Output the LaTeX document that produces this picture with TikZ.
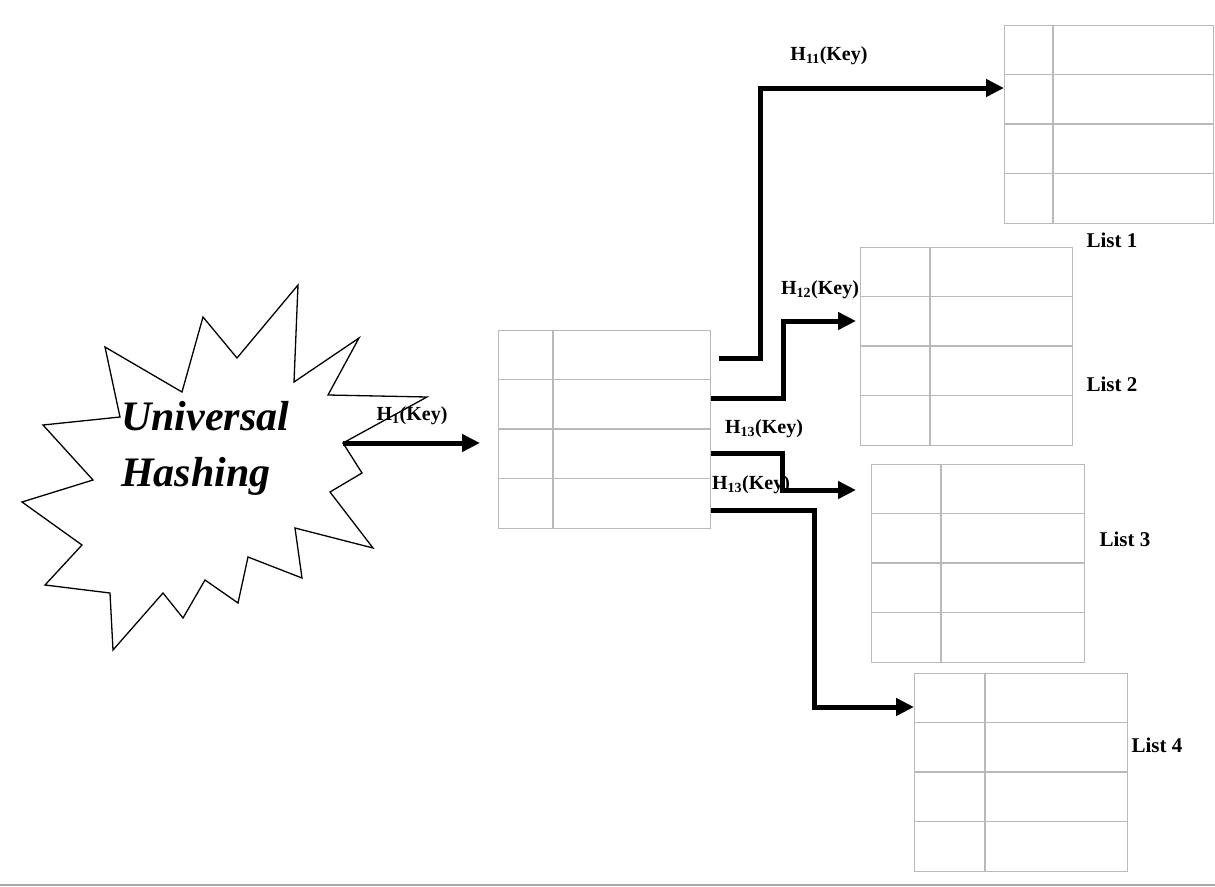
\documentclass[tikz,border=0pt]{standalone}
\usepackage{fontspec}
\setmainfont{Liberation Serif}
\usetikzlibrary{positioning,arrows.meta,calc}

\tikzset{
	tbl/.style={draw=gray!55, line width=1.2pt, minimum height=198pt, anchor=north west, inner sep=0pt},
	cell/.style={gray!55, line width=1.2pt},
	hash/.style={line width=5pt, -{Triangle[length=18pt,width=17pt]}},
	lbl/.style={font=\fontsize{20}{22}\selectfont\bfseries, inner sep=0pt},
	lst/.style={font=\fontsize{21}{24}\selectfont\bfseries, inner sep=0pt},
}

\begin{document}
\begin{tikzpicture}[x=1pt,y=-1pt]
\useasboundingbox (0,0) rectangle (1215,886);

% the burst
\draw[line width=1.3pt] (298,285) -- (294,382) -- (359,338) -- (328,395) -- (427,397)
	-- (343,443) -- (362,473) -- (330,492) -- (373,548) -- (295,528) -- (302,578)
	-- (248,557) -- (238,603) -- (205,580) -- (183,618) -- (163,593) -- (113,650)
	-- (110,593) -- (45,585) -- (82,545) -- (22,502) -- (93,480) -- (43,425)
	-- (120,417) -- (105,347) -- (182,392) -- (203,317) -- (237,358) -- cycle;
\coordinate (tip) at (343,443);
\node[font=\fontsize{42}{56}\selectfont\bfseries\itshape, align=left, anchor=west, inner sep=0pt] (U) at (121,448) {Universal\\Hashing};

% table and lists
\foreach \n/\x/\y/\w/\c in {T/498/330/212/55, L1/1004/25/209/49, L2/860/247/212/70, L3/871/464/213/70, L4/914/673/213/71}{
	\node[tbl, minimum width=\w pt] (\n) at (\x,\y) {};
	\draw[cell] (\x+\c,\y) -- +(0,198);
	\foreach \r in {1,2,3}
		\draw[cell] (\x,\y+49.5*\r) -- +(\w,0);
}
\node[lst] (n1) at (1112,240) {List 1};
\node[lst] (n2) at (1112,384) {List 2};
\node[lst] (n3) at (1125,539) {List 3};
\node[lst] (n4) at (1157,745) {List 4};

% hash arrows
\draw[hash, shorten >=18pt] (tip) -- (T.west |- tip);
\draw[hash] ($(T.east |- 0,358)+(8,0)$) -| (760,88) -- (L1.west |- 0,88);
\draw[hash, shorten >=4pt] (T.east |- 0,398) -| (783,321) -- (L2.west |- 0,321);
\draw[hash, shorten >=15pt] (T.east |- 0,453) -| (782,490) -- (L3.west |- 0,490);
\draw[hash] (T.east |- 0,510) -| (814,707) -- (L4.west |- 0,707);

\node[lbl] (h1) at (412,416) {H\textsubscript{1}(Key)};
\node[lbl] (h11) at (829,56) {H\textsubscript{11}(Key)};
\node[lbl] (h12) at (820,290) {H\textsubscript{12}(Key)};
\node[lbl] (h13) at (764,429) {H\textsubscript{13}(Key)};
\node[lbl] (h14) at (751,485) {H\textsubscript{13}(Key)};

\draw[gray!70, line width=2pt] (0,885) -- (1215,885);
\end{tikzpicture}
\end{document}
